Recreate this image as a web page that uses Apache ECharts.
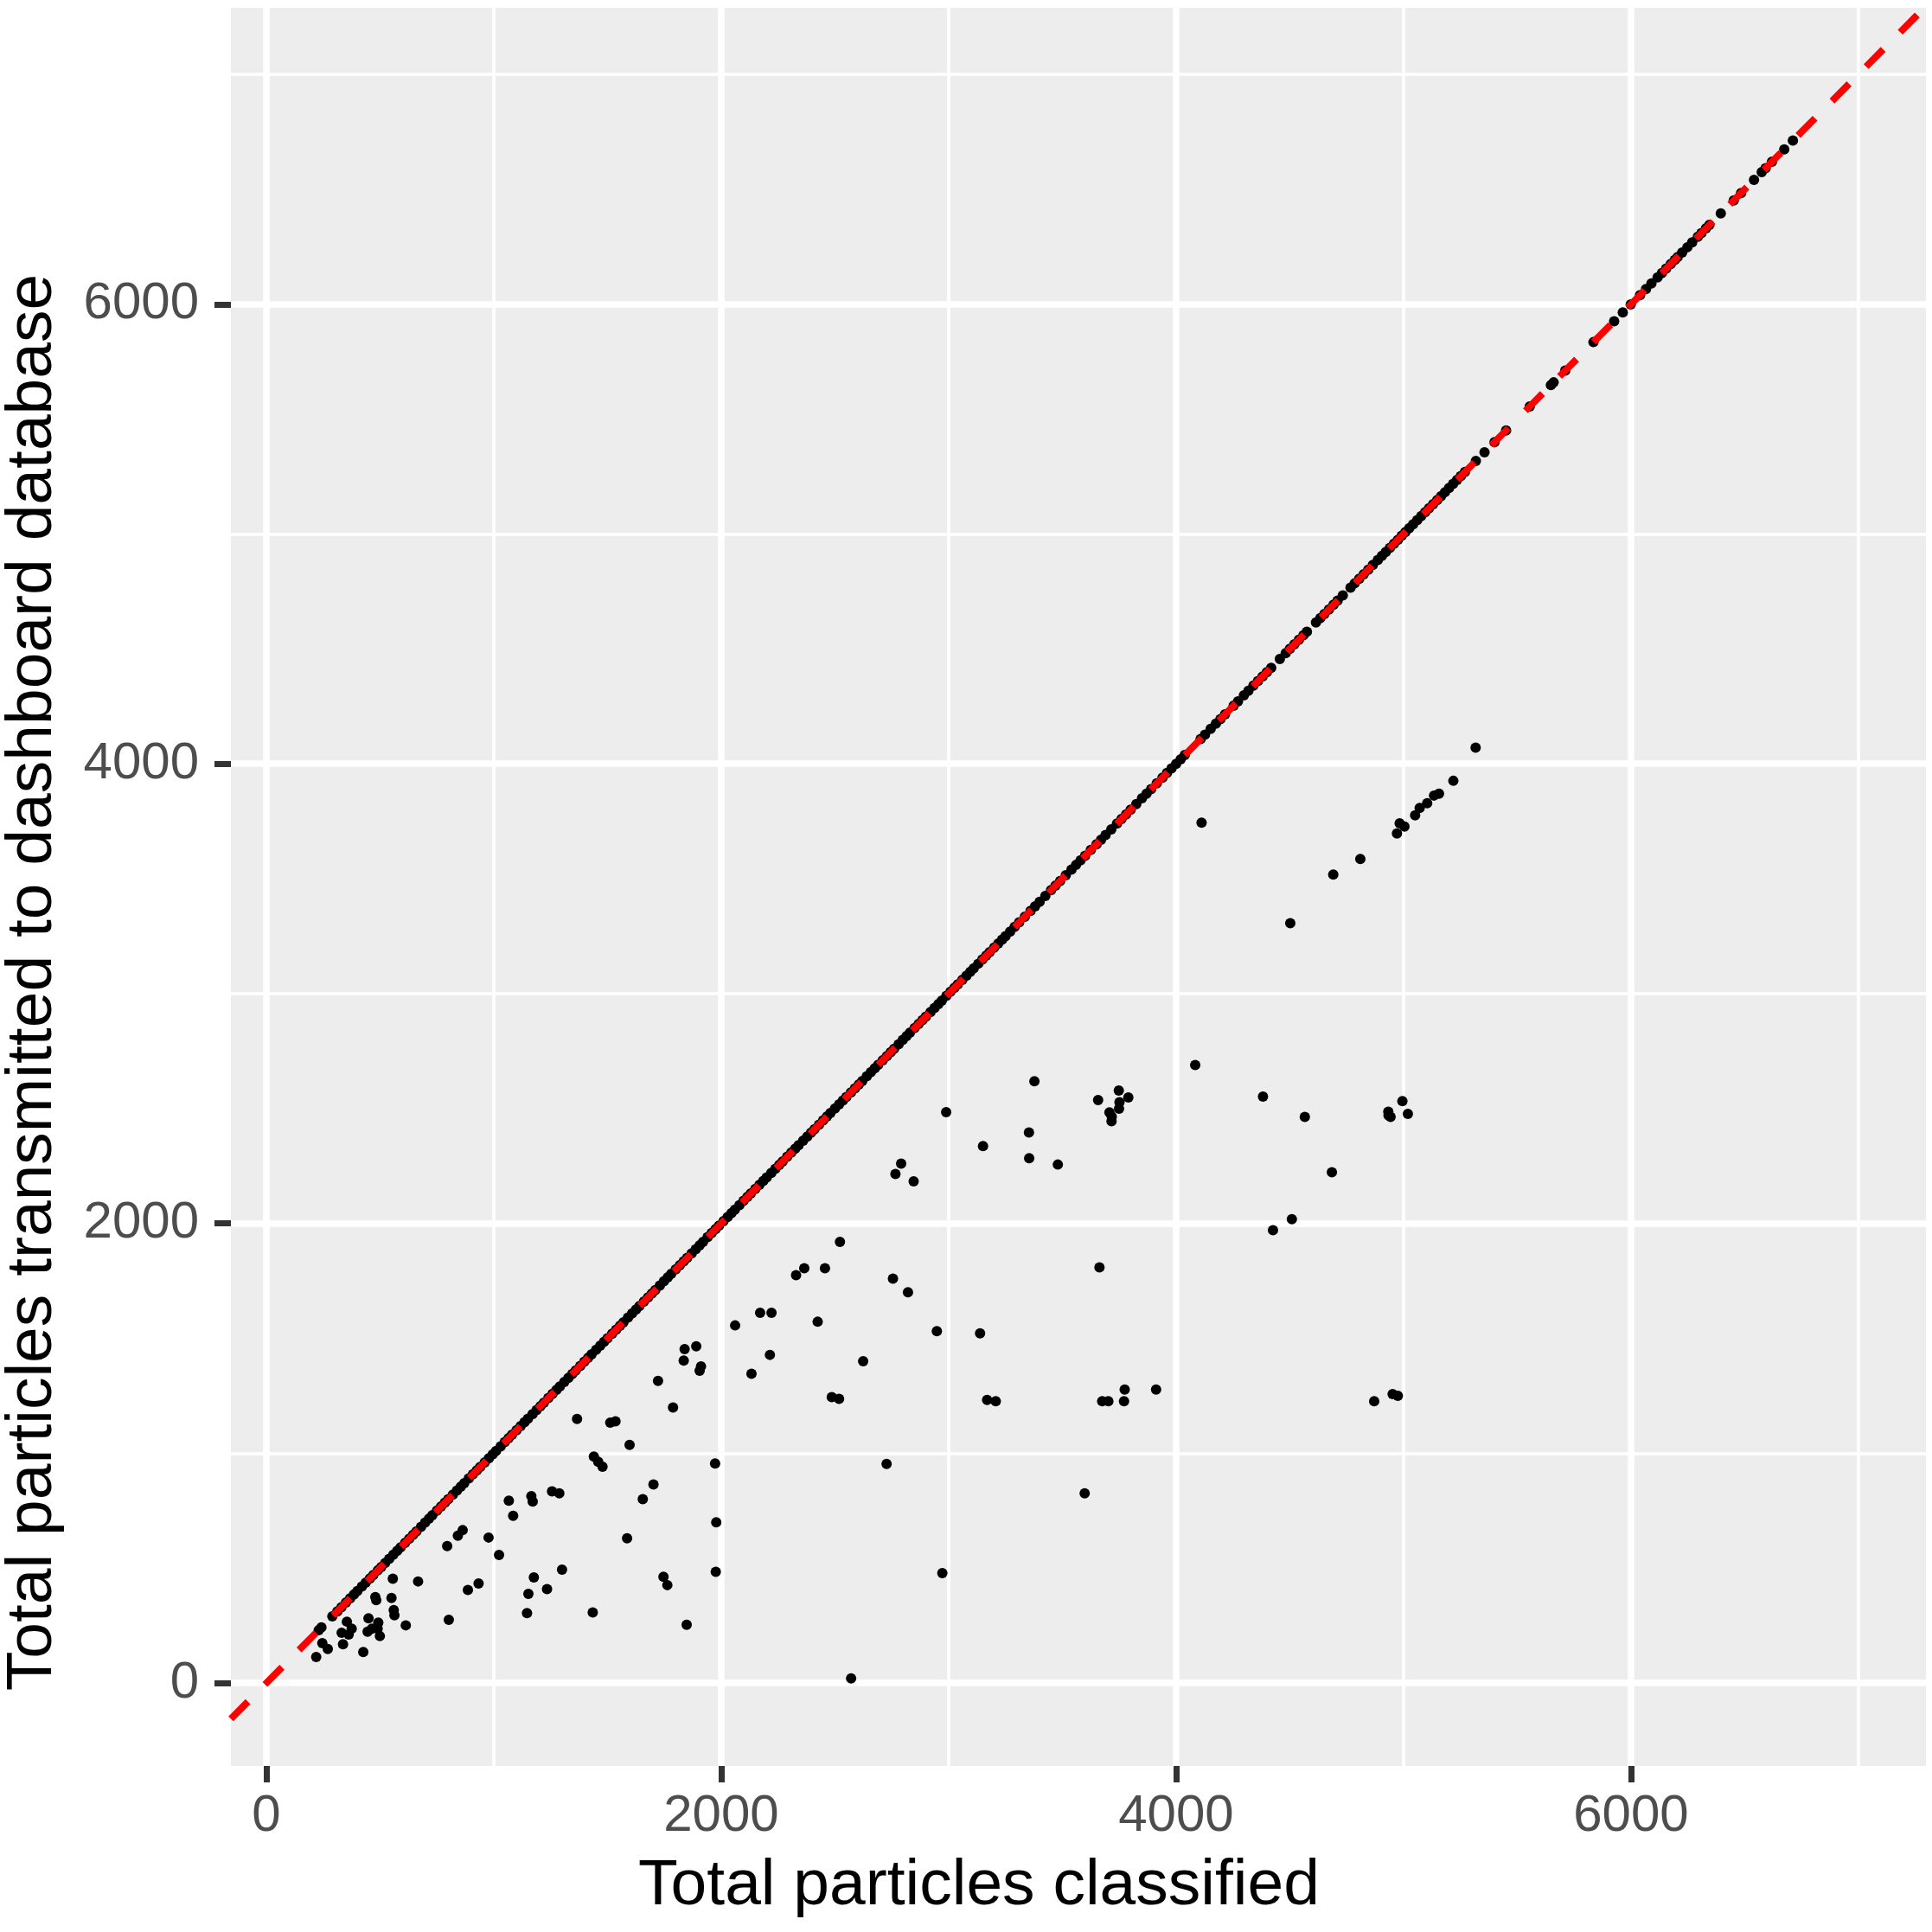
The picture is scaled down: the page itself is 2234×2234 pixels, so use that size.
<!DOCTYPE html>
<html>
<head>
<meta charset="utf-8">
<script src="https://cdn.jsdelivr.net/npm/echarts@6/dist/echarts.min.js"></script>
<style>
html,body{margin:0;padding:0;background:#fff;}
#c{width:2234px;height:2234px;}
</style>
</head>
<body>
<div id="c"></div>
<script>
// ---- data ----
var xTitle = "Total particles classified";
var yTitle = "Total particles transmitted to dashboard database";
var majorTicks = [0, 2000, 4000, 6000];
var minorTicks = [1000, 3000, 5000, 7000];

// runs where every classified particle was transmitted (transmitted == classified)
var matchedTotals = [230, 242, 290, 312, 330, 350, 368, 385, 400, 420, 437, 455, 470, 490, 505, 522, 540, 558, 575, 590,
  610, 628, 645, 660, 680, 698, 715, 730, 750, 768, 785, 800, 820, 838, 855, 870, 890, 908, 925, 940,
  960, 978, 995, 1010, 1030, 1048, 1065, 1080, 1100, 1118, 1135, 1150, 1170, 1188, 1205, 1220, 1240, 1258, 1275, 1290,
  1310, 1328, 1345, 1360, 1380, 1398, 1415, 1430, 1450, 1468, 1485, 1500, 1520, 1538, 1555, 1570, 1590, 1608, 1625, 1640,
  1660, 1678, 1695, 1710, 1730, 1748, 1765, 1780, 1800, 1818, 1835, 1850, 1870, 1888, 1905, 1920, 1940, 1958, 1975, 1990,
  2010, 2028, 2045, 2060, 2080, 2098, 2115, 2130, 2150, 2168, 2185, 2200, 2220, 2238, 2255, 2270, 2290, 2308, 2325, 2340,
  2360, 2378, 2395, 2410, 2430, 2448, 2465, 2480, 2500, 2518, 2535, 2550, 2570, 2588, 2605, 2620, 2640, 2658, 2675, 2690,
  2710, 2728, 2745, 2760, 2780, 2798, 2815, 2830, 2850, 2868, 2885, 2900, 2920, 2938, 2955, 2970, 2990, 3008, 3025, 3040,
  3060, 3078, 3095, 3110, 3130, 3148, 3165, 3180, 3200, 3218, 3235, 3250, 3270, 3290, 3310, 3335, 3360, 3380, 3400, 3425,
  3450, 3470, 3490, 3515, 3540, 3560, 3580, 3600, 3625, 3650, 3670, 3690, 3715, 3740, 3760, 3780, 3800, 3825, 3850, 3870,
  3890, 3915, 3940, 3960, 3980, 4000, 4020, 4038, 4108, 4127, 4152, 4175, 4195, 4215, 4253, 4272, 4298, 4318, 4340, 4360,
  4380, 4399, 4418, 4456, 4482, 4500, 4520, 4540, 4560, 4575, 4615, 4634, 4652, 4672, 4692, 4710, 4733, 4767, 4785, 4805,
  4825, 4845, 4865, 4887, 4905, 4922, 4940, 4958, 4975, 4992, 5008, 5025, 5042, 5060, 5078, 5095, 5112, 5130, 5148, 5165,
  5182, 5200, 5218, 5235, 5252, 5270, 5318, 5356, 5400, 5451, 5555, 5648, 5660, 5711, 5835, 5926, 5964, 5999, 6040, 6066,
  6090, 6117, 6136, 6155, 6175, 6193, 6205, 6225, 6248, 6269, 6294, 6310, 6330, 6345, 6395, 6452, 6484, 6541, 6575, 6592,
  6620, 6674, 6712];

// runs where fewer particles were transmitted: [classified, transmitted]
var partialRuns = [
  [1839,1453],[1890,1465],[1835,1403],[1911,1378],[1905,1359],[1722,1315],[1788,1199],[1366,1149],[1512,1133],[1535,1139],
  [1597,1036],[1440,985],[1459,963],[1478,941],[1973,955],[1702,864],[1655,800],[1978,699],[1586,630],[1976,484],
  [1746,462],[1763,426],[1848,253],[1435,307],[1300,493],[1176,459],[1152,388],[1234,409],[1146,304],[1256,834],
  [1288,825],[1165,813],[1171,790],[1066,793],[1085,728],[977,633],[1023,557],[795,596],[842,641],[863,665],
  [933,433],[886,405],[802,275],[667,442],[613,251],[556,454],[550,370],[560,317],[563,295],[479,374],
  [483,361],[492,263],[499,204],[489,236],[449,282],[445,223],[464,236],[426,135],[354,267],[375,236],
  [331,219],[362,211],[337,169],[246,173],[270,148],[219,113],
  [2522,1920],[2329,1775],[2365,1805],[2456,1805],[2755,1760],[2821,1700],[2061,1556],[2171,1611],[2221,1611],[2424,1572],
  [2948,1531],[3138,1522],[2214,1428],[2133,1346],[2624,1400],[2486,1244],[2518,1237],[3169,1232],[3207,1226],[2727,953],
  [2972,478],[2571,20],
  [2989,2484],[2791,2260],[2766,2215],[2846,2183],[3377,2619],[3353,2396],[3151,2336],[3354,2284],[3480,2256],[3657,2537],
  [3748,2578],[3790,2548],[3751,2527],[3749,2499],[3707,2483],[3717,2464],[3716,2445],[4084,2689],[4382,2552],[4566,2463],
  [4995,2532],[4933,2486],[4943,2463],[5019,2477],[4934,2470],[4685,2223],[4509,2018],[4426,1970],[3663,1809],[3675,1226],
  [3702,1226],[3771,1226],[3774,1277],[3912,1277],[4871,1226],[4952,1257],[4975,1250],[3598,825],
  [4112,3744],[4502,3306],[4691,3518],[4810,3586],[4971,3697],[4983,3741],[5004,3727],[5051,3776],[5071,3808],[5104,3829],
  [5134,3862],[5156,3870],[5219,3926],[5317,4070]
];

var xRange = [-156, 7297];
var yRange = [-361, 7290];

// identity reference line y = x, spanning the panel
var refLine = [[-156,-156],[7290,7290]];

// ---- build chart ----
var points = matchedTotals.map(function(v){ return [v, v]; }).concat(partialRuns);

var gridMarks = [];
majorTicks.forEach(function(v){
  gridMarks.push({xAxis: v, lineStyle: {width: 7.5}});
  gridMarks.push({yAxis: v, lineStyle: {width: 7.5}});
});
minorTicks.forEach(function(v){
  gridMarks.push({xAxis: v, lineStyle: {width: 3.7}});
  gridMarks.push({yAxis: v, lineStyle: {width: 3.7}});
});

var FONT = '"Liberation Sans", Arial, Helvetica, sans-serif';
function plain(v){ return String(v); }

var chart = echarts.init(document.getElementById('c'), null, {renderer: 'canvas'});
chart.setOption({
  animation: false,
  backgroundColor: '#ffffff',
  grid: {left: 267, right: 7, top: 9, bottom: 192, show: true, backgroundColor: '#EDEDED', borderWidth: 0, containLabel: false},
  xAxis: {
    type: 'value', min: xRange[0], max: xRange[1],
    axisLine: {show: true, onZero: false, lineStyle: {color: 'rgba(0,0,0,0)', width: 1}},
    splitLine: {show: false},
    axisTick: {show: true, customValues: majorTicks, length: 19, lineStyle: {color: '#333333', width: 7, opacity: 1}},
    axisLabel: {show: true, customValues: majorTicks, formatter: plain, margin: 28, color: '#4D4D4D', fontSize: 60, fontFamily: FONT}
  },
  yAxis: {
    type: 'value', min: yRange[0], max: yRange[1],
    axisLine: {show: true, onZero: false, lineStyle: {color: 'rgba(0,0,0,0)', width: 1}},
    splitLine: {show: false},
    axisTick: {show: true, customValues: majorTicks, length: 19, lineStyle: {color: '#333333', width: 7, opacity: 1}},
    axisLabel: {show: true, customValues: majorTicks, formatter: plain, margin: 37, color: '#4D4D4D', fontSize: 60, fontFamily: FONT}
  },
  graphic: [
    {type: 'text', x: 1132, y: 2181, z: 10,
     style: {text: xTitle, font: '75px ' + FONT, fill: '#000000', align: 'center', verticalAlign: 'middle'}},
    {type: 'text', x: 38, y: 1136, rotation: Math.PI / 2, z: 10,
     style: {text: yTitle, font: '75px ' + FONT, fill: '#000000', align: 'center', verticalAlign: 'middle'}}
  ],
  series: [
    {
      type: 'line', data: [], z: 1, silent: true,
      markLine: {
        z: 1, silent: true, symbol: ['none', 'none'], animation: false,
        label: {show: false},
        lineStyle: {color: '#FFFFFF', type: 'solid', opacity: 1},
        emphasis: {disabled: true},
        data: gridMarks
      }
    },
    {
      type: 'scatter', data: points, z: 3, symbol: 'circle', symbolSize: 12,
      itemStyle: {color: '#000000', opacity: 1}, silent: true
    },
    {
      type: 'line', data: refLine, z: 5, symbol: 'none', clip: true, silent: true,
      lineStyle: {color: '#FF0000', width: 8, type: [28, 28], cap: 'butt'}
    }
  ]
});
</script>
</body>
</html>
